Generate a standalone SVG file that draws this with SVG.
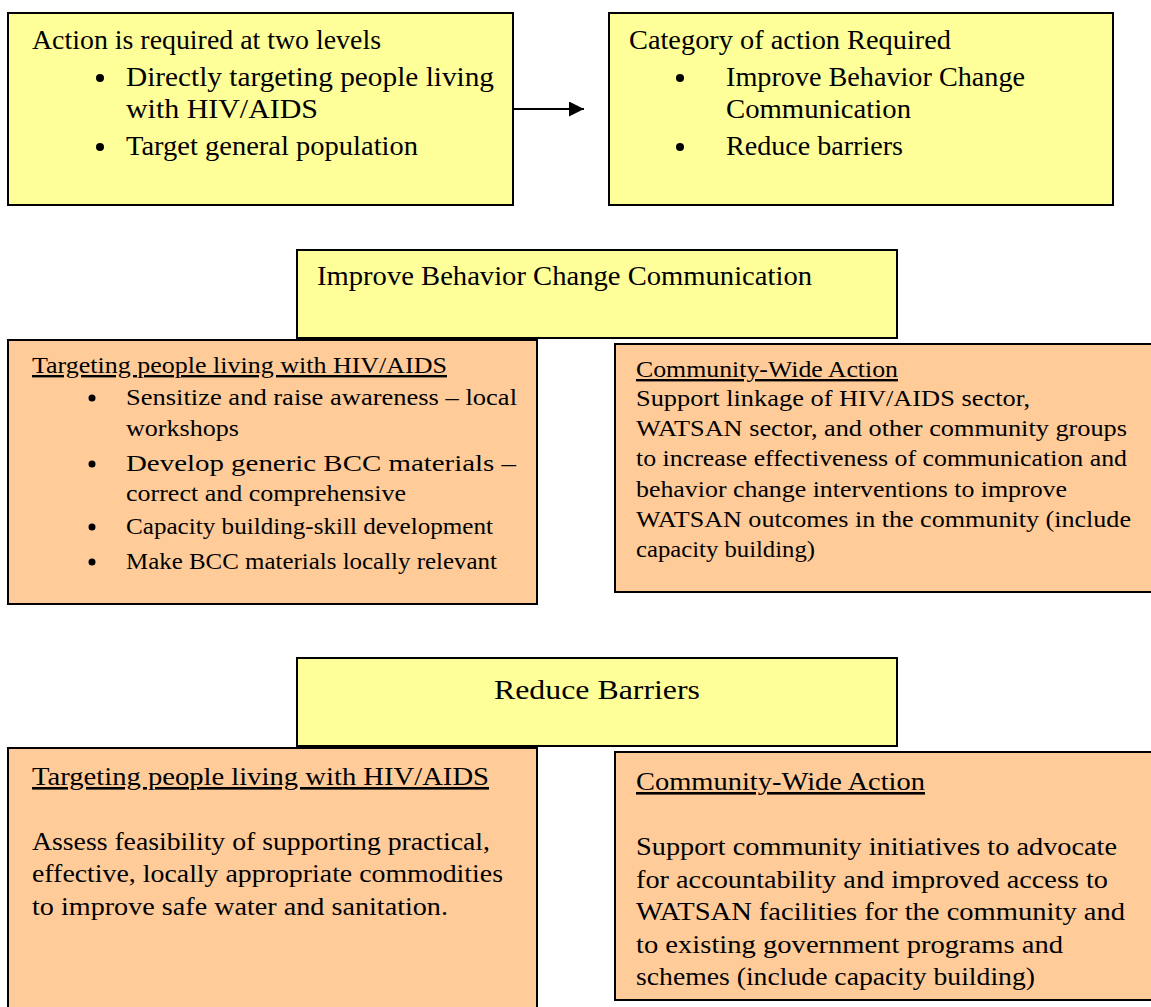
<svg xmlns="http://www.w3.org/2000/svg" width="1151" height="1007" viewBox="0 0 1151 1007">
<style>
.y{fill:#FFFF99;stroke:#000;stroke-width:2}
.o{fill:#FFCC99;stroke:#000;stroke-width:2}
text{font-family:"Liberation Serif","Times New Roman",serif;fill:#000}
.t1{font-size:27px}
.t2{font-size:24px}
.t3{font-size:26px}
.u{text-decoration:underline}
.b{fill:#000}
</style>
<defs>
<marker id="ah" markerWidth="15" markerHeight="15" refX="15" refY="7.5" orient="auto" markerUnits="userSpaceOnUse">
<path d="M0,0 L15,7.5 L0,15 Z" fill="#000"/>
</marker>
</defs>
<rect width="1151" height="1007" fill="#fff"/>
<g id="connectors">
<line x1="514" y1="109" x2="584" y2="109" stroke="#000" stroke-width="2" marker-end="url(#ah)"/>
</g>
<g id="levels">
<rect class="y" x="8" y="13" width="505" height="192"/>
<text class="t1" x="32" y="49" textLength="349" lengthAdjust="spacingAndGlyphs">Action is required at two levels</text>
<circle class="b" cx="100" cy="78" r="4"/>
<text class="t1" x="126" y="86" textLength="368" lengthAdjust="spacingAndGlyphs">Directly targeting people living</text>
<text class="t1" x="126" y="118" textLength="192" lengthAdjust="spacingAndGlyphs">with HIV/AIDS</text>
<circle class="b" cx="100" cy="147" r="4"/>
<text class="t1" x="126" y="155" textLength="292" lengthAdjust="spacingAndGlyphs">Target general population</text>
</g>
<g id="category">
<rect class="y" x="609" y="13" width="504" height="192"/>
<text class="t1" x="629" y="49" textLength="322" lengthAdjust="spacingAndGlyphs">Category of action Required</text>
<circle class="b" cx="680" cy="78" r="4"/>
<text class="t1" x="726" y="86" textLength="299" lengthAdjust="spacingAndGlyphs">Improve Behavior Change</text>
<text class="t1" x="726" y="118" textLength="185" lengthAdjust="spacingAndGlyphs">Communication</text>
<circle class="b" cx="680" cy="147" r="4"/>
<text class="t1" x="726" y="155" textLength="177" lengthAdjust="spacingAndGlyphs">Reduce barriers</text>
</g>
<g id="bcc-header">
<rect class="y" x="297" y="250" width="600" height="88"/>
<text class="t1" x="317" y="285" textLength="495" lengthAdjust="spacingAndGlyphs">Improve Behavior Change Communication</text>
</g>
<g id="bcc-targeting">
<rect class="o" x="8" y="340" width="529" height="264"/>
<text class="t2 u" x="32" y="373" textLength="415" lengthAdjust="spacingAndGlyphs">Targeting people living with HIV/AIDS</text>
<circle class="b" cx="92" cy="398" r="3.5"/>
<text class="t2" x="126" y="405" textLength="391" lengthAdjust="spacingAndGlyphs">Sensitize and raise awareness – local</text>
<text class="t2" x="126" y="436" textLength="113" lengthAdjust="spacingAndGlyphs">workshops</text>
<circle class="b" cx="92" cy="464" r="3.5"/>
<text class="t2" x="126" y="471" textLength="390" lengthAdjust="spacingAndGlyphs">Develop generic BCC materials –</text>
<text class="t2" x="126" y="501" textLength="280" lengthAdjust="spacingAndGlyphs">correct and comprehensive</text>
<circle class="b" cx="92" cy="527" r="3.5"/>
<text class="t2" x="126" y="534" textLength="367" lengthAdjust="spacingAndGlyphs">Capacity building-skill development</text>
<circle class="b" cx="92" cy="562" r="3.5"/>
<text class="t2" x="126" y="569" textLength="371" lengthAdjust="spacingAndGlyphs">Make BCC materials locally relevant</text>
</g>
<g id="bcc-community">
<rect class="o" x="615" y="344" width="540" height="248"/>
<text class="t2 u" x="636" y="377" textLength="262" lengthAdjust="spacingAndGlyphs">Community-Wide Action</text>
<text class="t2" x="636" y="406" textLength="394" lengthAdjust="spacingAndGlyphs">Support linkage of HIV/AIDS sector,</text>
<text class="t2" x="636" y="436" textLength="491" lengthAdjust="spacingAndGlyphs">WATSAN sector, and other community groups</text>
<text class="t2" x="636" y="466" textLength="491" lengthAdjust="spacingAndGlyphs">to increase effectiveness of communication and</text>
<text class="t2" x="636" y="497" textLength="431" lengthAdjust="spacingAndGlyphs">behavior change interventions to improve</text>
<text class="t2" x="636" y="527" textLength="495" lengthAdjust="spacingAndGlyphs">WATSAN outcomes in the community (include</text>
<text class="t2" x="636" y="557" textLength="179" lengthAdjust="spacingAndGlyphs">capacity building)</text>
</g>
<g id="barriers-header">
<rect class="y" x="297" y="658" width="600" height="88"/>
<text class="t1" x="494" y="699" textLength="206" lengthAdjust="spacingAndGlyphs">Reduce Barriers</text>
</g>
<g id="barriers-targeting">
<rect class="o" x="8" y="748" width="529" height="270"/>
<text class="t3 u" x="32" y="785" textLength="457" lengthAdjust="spacingAndGlyphs">Targeting people living with HIV/AIDS</text>
<text class="t3" x="32" y="850" textLength="458" lengthAdjust="spacingAndGlyphs">Assess feasibility of supporting practical,</text>
<text class="t3" x="32" y="882" textLength="471" lengthAdjust="spacingAndGlyphs">effective, locally appropriate commodities</text>
<text class="t3" x="32" y="915" textLength="416" lengthAdjust="spacingAndGlyphs">to improve safe water and sanitation.</text>
</g>
<g id="barriers-community">
<rect class="o" x="615" y="752" width="540" height="248"/>
<text class="t3 u" x="636" y="790" textLength="289" lengthAdjust="spacingAndGlyphs">Community-Wide Action</text>
<text class="t3" x="636" y="855" textLength="481" lengthAdjust="spacingAndGlyphs">Support community initiatives to advocate</text>
<text class="t3" x="636" y="888" textLength="472" lengthAdjust="spacingAndGlyphs">for accountability and improved access to</text>
<text class="t3" x="636" y="920" textLength="489" lengthAdjust="spacingAndGlyphs">WATSAN facilities for the community and</text>
<text class="t3" x="636" y="953" textLength="427" lengthAdjust="spacingAndGlyphs">to existing government programs and</text>
<text class="t3" x="636" y="985" textLength="399" lengthAdjust="spacingAndGlyphs">schemes (include capacity building)</text>
</g>
</svg>
